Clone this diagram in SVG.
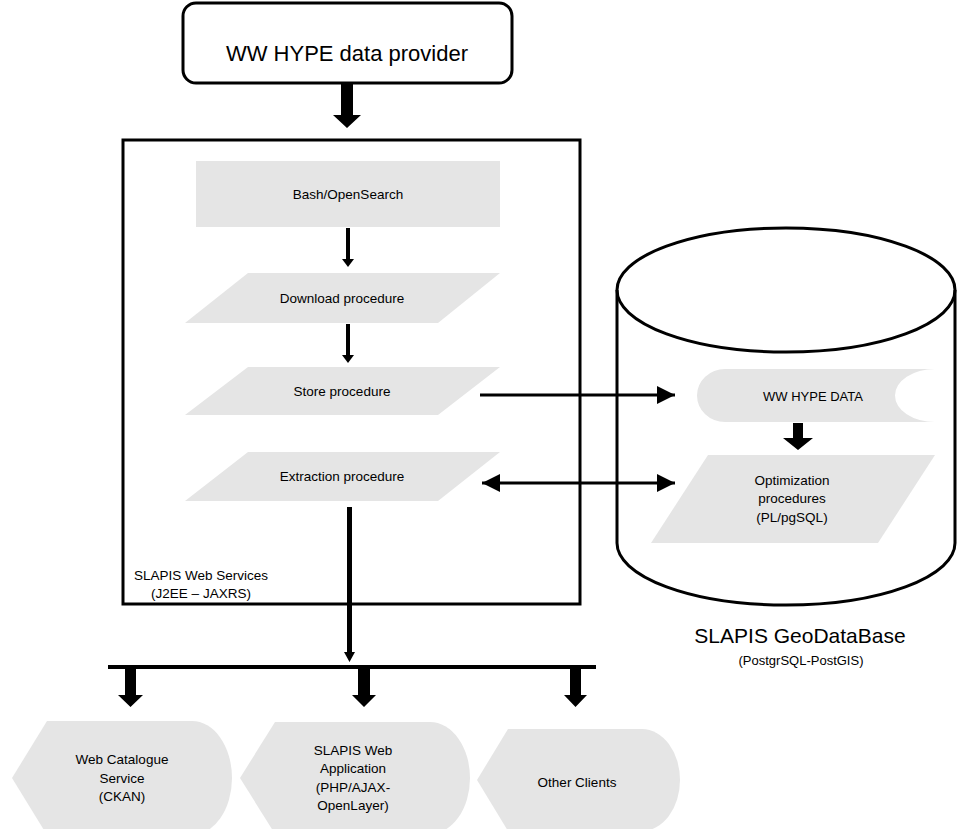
<svg xmlns="http://www.w3.org/2000/svg" width="957" height="829" viewBox="0 0 957 829">
<style>
text{font-family:"Liberation Sans",Arial,sans-serif;fill:#000;text-anchor:middle}
.t{font-size:13.5px}
.g{fill:#e5e5e5;stroke:none}
.frame{fill:#fff;stroke:#000;stroke-width:3}
.ln{stroke:#000;stroke-width:3;fill:none}
.blk{fill:#000;stroke:none}
</style>
<defs>
<marker id="ah" markerUnits="userSpaceOnUse" markerWidth="18" markerHeight="18" refX="18" refY="9" orient="auto-start-reverse">
<path d="M0,0 L18,9 L0,18 Z" fill="#000"/>
</marker>
</defs>
<rect width="957" height="829" fill="#fff"/>

<g id="provider">
<rect x="183" y="3" width="329" height="80" rx="13" ry="13" class="frame"/>
<text x="347" y="61" style="font-size:22px">WW HYPE data provider</text>
</g>

<g id="webservices">
<rect x="123" y="140" width="457" height="464" class="frame"/>
<text class="t" x="201" y="580">SLAPIS Web Services</text>
<text class="t" x="201" y="598">(J2EE – JAXRS)</text>
</g>

<g id="bash">
<rect x="196" y="161" width="304" height="66" class="g"/>
<text class="t" x="348" y="199">Bash/OpenSearch</text>
</g>

<g id="download">
<polygon points="248,273 500,273 438,323 185,323" class="g"/>
<text class="t" x="342" y="303">Download procedure</text>
</g>

<g id="store">
<polygon points="248,367 500,367 438,415 185,415" class="g"/>
<text class="t" x="342" y="396">Store procedure</text>
</g>

<g id="extraction">
<polygon points="248,452 500,452 438,501 185,501" class="g"/>
<text class="t" x="342" y="481">Extraction procedure</text>
</g>

<g id="geodatabase">
<path d="M617,290 L617,543 A169,62 0 0 0 955,543 L955,290" class="ln"/>
<ellipse cx="786" cy="290" rx="169" ry="62" class="ln"/>
<text x="800" y="643" style="font-size:21px">SLAPIS GeoDataBase</text>
<text x="801" y="665" style="font-size:13px">(PostgrSQL-PostGIS)</text>
</g>

<g id="wwhypedata">
<path d="M935,369 L725,369 A28,26.5 0 0 0 725,422 L935,422 A40,26.5 0 0 1 935,369 Z" class="g"/>
<text x="813" y="401" style="font-size:13px">WW HYPE DATA</text>
</g>

<g id="optimization">
<polygon points="708,455 935,455 878,543 651,543" class="g"/>
<text class="t" x="792" y="485">Optimization</text>
<text class="t" x="792" y="503">procedures</text>
<text class="t" x="792" y="522">(PL/pgSQL)</text>
</g>

<g id="ckan">
<path d="M12,778 L47,721 L192,721 A40,57 0 0 1 192,835 L47,835 Z" class="g"/>
<text class="t" x="122" y="764">Web Catalogue</text>
<text class="t" x="122" y="783">Service</text>
<text class="t" x="122" y="801">(CKAN)</text>
</g>

<g id="webapp">
<path d="M240,778 L275,722 L430,722 A40,56 0 0 1 430,834 L275,834 Z" class="g"/>
<text class="t" x="353" y="755">SLAPIS Web</text>
<text class="t" x="353" y="773">Application</text>
<text class="t" x="353" y="792">(PHP/AJAX-</text>
<text class="t" x="353" y="810">OpenLayer)</text>
</g>

<g id="otherclients">
<path d="M477,780 L508,729 L642,729 A38,51 0 0 1 642,831 L508,831 Z" class="g"/>
<text class="t" x="577" y="787">Other Clients</text>
</g>

<g id="connectors">
<path class="blk" d="M341,83 L353,83 L353,115 L361,115 L347,128 L333,115 L341,115 Z"/>
<path class="blk" d="M346,228 L350,228 L350,259 L354,259 L348,267 L342,259 L346,259 Z"/>
<path class="blk" d="M346,324 L350,324 L350,355 L354,355 L348,363 L342,355 L346,355 Z"/>
<path class="blk" d="M347,507 L352,507 L352,652 L355,652 L349.5,662 L344,652 L347,652 Z"/>
<line x1="108" y1="667" x2="596" y2="667" stroke="#000" stroke-width="4"/>
<path class="blk" d="M125,669 L136,669 L136,695 L143,695 L130.5,707 L118,695 L125,695 Z"/>
<path class="blk" d="M358,669 L370,669 L370,695 L376,695 L364,707 L352,695 L358,695 Z"/>
<path class="blk" d="M570,669 L581,669 L581,695 L587,695 L575.5,707 L564,695 L570,695 Z"/>
<path class="blk" d="M793,423 L803,423 L803,438 L813,438 L798,450 L783,438 L793,438 Z"/>
<line x1="480" y1="395" x2="675" y2="395" class="ln" marker-end="url(#ah)"/>
<line x1="482" y1="483" x2="675" y2="483" class="ln" marker-start="url(#ah)" marker-end="url(#ah)"/>
</g>
</svg>
